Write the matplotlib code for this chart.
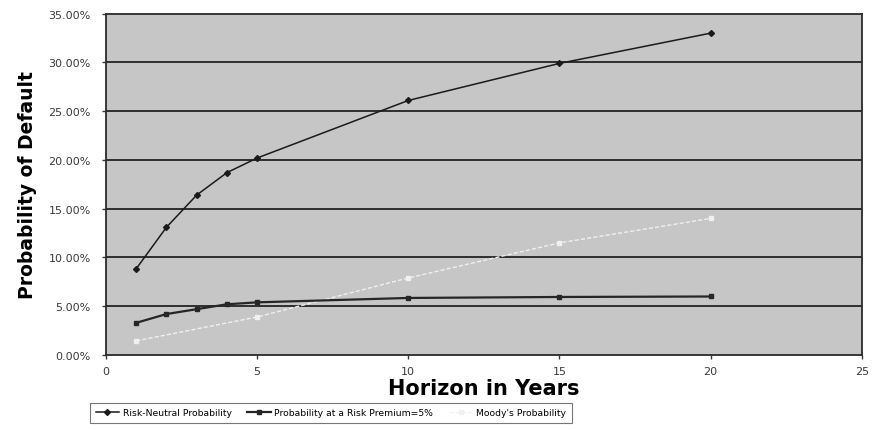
import numpy as np
import matplotlib
matplotlib.use("Agg")
import matplotlib.pyplot as plt
from matplotlib.ticker import PercentFormatter

plt.rcParams['font.family'] = ['DejaVu Sans']

# values (percent)
horizon_rn = [1, 2, 3, 4, 5, 10, 15, 20]
risk_neutral = [8.85, 13.1, 16.4, 18.7, 20.2, 26.1, 29.9, 33.0]

horizon_rp = [1, 2, 3, 4, 5, 10, 15, 20]
risk_premium = [3.3, 4.2, 4.7, 5.2, 5.4, 5.85, 5.95, 6.0]

horizon_moody = [1, 5, 10, 15, 20]
moodys = [1.45, 3.9, 7.9, 11.5, 14.0]

yticks = [0, 5, 10, 15, 20, 25, 30, 35]
xticks = [0, 5, 10, 15, 20, 25]

fig = plt.figure(figsize=(8.74, 4.31), dpi=100)
ax = fig.add_axes([0.1213, 0.174, 0.8647, 0.792])
ax.set_facecolor('#c6c6c6')

# horizontal gridlines
for y in yticks[1:-1]:
    ax.axhline(y, color='#2e2e2e', lw=1.4, zorder=1)

ax.plot(horizon_rn, risk_neutral, color='#1a1a1a', lw=1.1, marker='D',
        ms=3, label='Risk-Neutral Probability', zorder=3)
ax.plot(horizon_rp, risk_premium, color='#262626', lw=1.6, marker='s',
        ms=3.5, label='Probability at a Risk Premium=5%', zorder=3)
ax.plot(horizon_moody, moodys, color='#f0f0f0', lw=1.0, ls=(0, (3, 1.5)),
        marker='s', ms=2.5, label="Moody's Probability", zorder=2)

ax.set_xlim(0, 25)
ax.set_ylim(0, 35)
ax.set_xticks(xticks)
ax.set_yticks(yticks)
ax.yaxis.set_major_formatter(PercentFormatter(decimals=2))
ax.tick_params(axis='both', labelsize=8, colors='#3a3a3a', length=3,
               width=1, direction='out')
ax.tick_params(axis='x', pad=5)
ax.tick_params(axis='y', pad=8)

for s in ax.spines.values():
    s.set_color('#2a2a2a')
    s.set_linewidth(1.3)

ax.set_xlabel('Horizon in Years', fontsize=15, fontweight='bold',
              labelpad=1)
ax.set_ylabel('Probability of Default', fontsize=13.5, fontweight='bold',
              labelpad=8)

leg = fig.legend(loc='lower left', bbox_to_anchor=(90 / 874, 1 - 424 / 431),
                 ncol=3, fontsize=6.7, frameon=True, fancybox=False,
                 edgecolor='#555555', handlelength=2.5, columnspacing=1.7,
                 borderpad=0.6, handletextpad=0.4, borderaxespad=0)
leg.get_frame().set_linewidth(0.8)

fig.savefig('out.png', dpi=100)
